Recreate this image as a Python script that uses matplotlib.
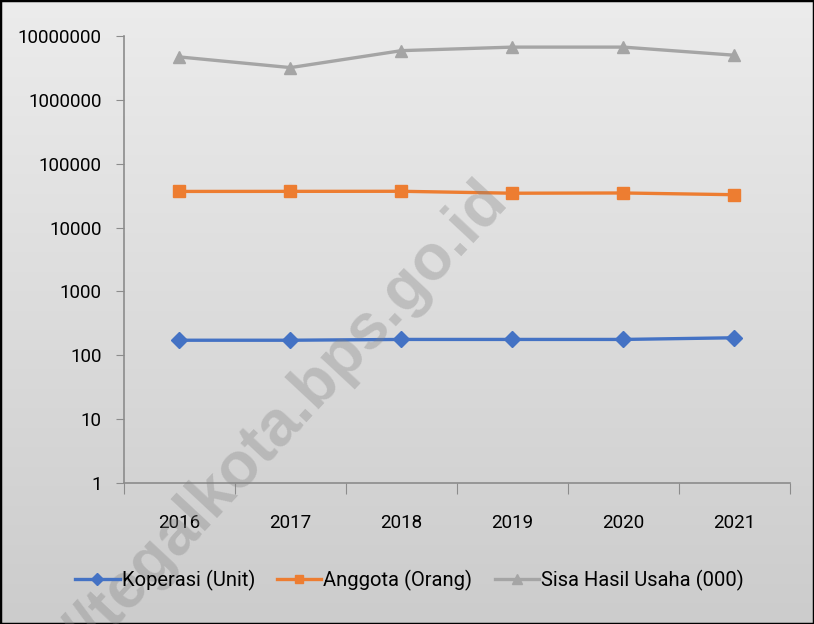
import numpy as np
import matplotlib.pyplot as plt

years = ['2016', '2017', '2018', '2019', '2020', '2021']
koperasi = [172, 172, 177, 177, 177, 188]
anggota = [36800, 36900, 37000, 34500, 34800, 32700]
shu = [4700000, 3200000, 5900000, 6700000, 6700000, 5000000]
labels = ['Koperasi (Unit)', 'Anggota (Orang)', 'Sisa Hasil Usaha (000)']

plt.rcParams['font.family'] = ['Roboto', 'DejaVu Sans']

fig = plt.figure(figsize=(8.14, 6.24), dpi=100)

# gradient background with black frame
bg = fig.add_axes([0, 0, 1, 1], zorder=0)
grad = np.linspace(0.925, 0.80, 256).reshape(-1, 1)
bg.imshow(np.dstack([grad, grad, grad]), aspect='auto', extent=[0, 1, 0, 1])
bg.set_xlim(0, 1)
bg.set_ylim(0, 1)
bg.set_xticks([])
bg.set_yticks([])
for s in bg.spines.values():
    s.set_linewidth(2.5)
    s.set_color('black')

ax = fig.add_axes([0.1523, 0.226, 0.8182, 0.7163], zorder=1)
ax.patch.set_alpha(0)
x = np.arange(len(years))
ax.plot(x, koperasi, color='#4472C4', lw=2.4, marker='D', ms=8, label=labels[0])
ax.plot(x, anggota, color='#ED7D31', lw=2.4, marker='s', ms=8, label=labels[1])
ax.plot(x, shu, color='#A5A5A5', lw=2.4, marker='^', ms=9, label=labels[2])

ax.set_yscale('log')
ax.set_ylim(1, 1e7)
ax.set_xlim(-0.5, len(years) - 0.5)
ax.set_yticks([10 ** i for i in range(8)])
ax.set_yticklabels([str(10 ** i) for i in range(8)])
ax.yaxis.set_minor_locator(plt.NullLocator())
ax.set_xticks(np.arange(-0.5, len(years)), minor=False)
ax.set_xticklabels([])
ax.set_xticks(x, minor=True)
ax.set_xticklabels(years, minor=True)
ax.tick_params(axis='x', which='major', length=8, color='#8c8c8c')
ax.tick_params(axis='x', which='minor', length=0, pad=22, labelsize=13.5)
ax.tick_params(axis='y', length=6, color='#8c8c8c', labelsize=13.5, pad=10)
for side in ['top', 'right']:
    ax.spines[side].set_visible(False)
for side in ['left', 'bottom']:
    ax.spines[side].set_color('#8c8c8c')
    ax.spines[side].set_linewidth(1.2)

fig.legend(loc='center', bbox_to_anchor=(0.503, 0.07), ncol=3, frameon=False,
           fontsize=14.5, handlelength=2.2, handletextpad=0.1, columnspacing=1.1,
           markerscale=0.8)

# watermark
fig.text(0.292, 0.252, 'http://tegalkota.bps.go.id', fontsize=46, fontweight='bold',
         family='Liberation Sans', color='#808080', alpha=0.33, rotation=47,
         ha='center', va='center', zorder=5)

fig.savefig('out.png', dpi=100)
